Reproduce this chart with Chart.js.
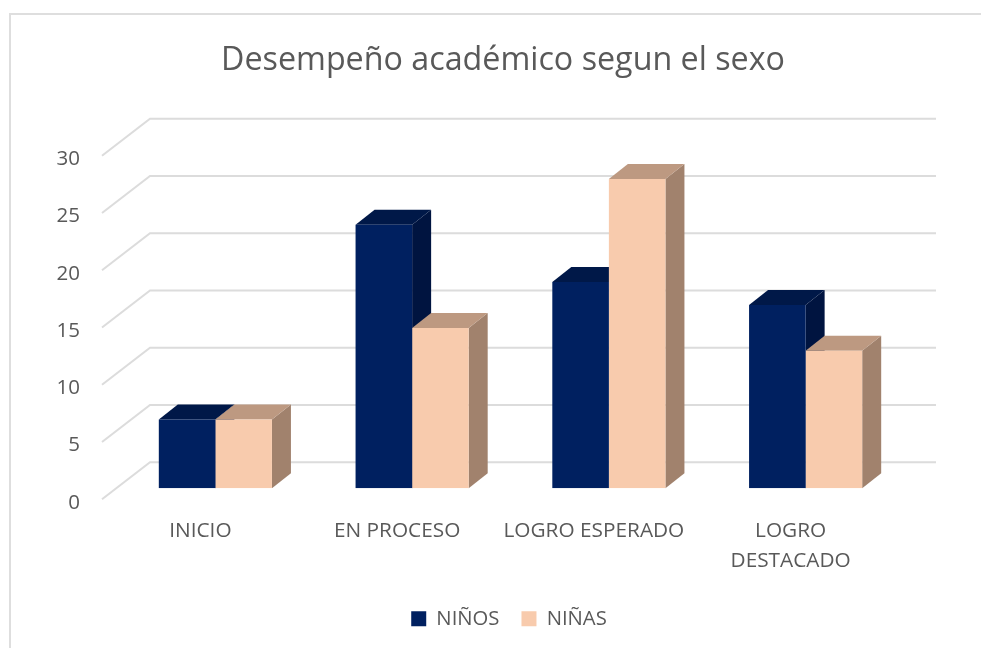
<!DOCTYPE html>
<html>
<head>
<meta charset="utf-8">
<script src="https://cdn.jsdelivr.net/npm/chart.js@4"></script>
<style>
html,body{margin:0;padding:0;background:#fff;overflow:hidden}
canvas{display:block}
</style>
</head>
<body>
<canvas id="c" width="982" height="648"></canvas>
<script>
const categories = ["INICIO", "EN PROCESO", "LOGRO ESPERADO", ["LOGRO", "DESTACADO"]];
const ninos = [6, 23, 18, 16];
const ninas = [6, 14, 27, 12];
const seriesNames = ["NIÑOS", "NIÑAS"];

const FONT = '"Open Sans", sans-serif';
const TEXT = '#595959';
const GRID = '#dcdcdc';
const FACES = [
  {front:'#002060', top:'#001848', side:'#001440'},
  {front:'#F8CBAD', top:'#BD9981', side:'#A1826D'}
];
const DEPTH_X = 19, DEPTH_Y = 15;

const wall3d = {
  id:'wall3d',
  afterLayout(chart){
    chart.legend.left += 12;
  },
  beforeDraw(chart){
    const c = chart.ctx;
    c.save();
    c.fillStyle = '#fff';
    c.fillRect(0,0,chart.width,chart.height);
    c.strokeStyle = '#dedede';
    c.lineWidth = 2;
    c.beginPath();
    c.moveTo(10,648); c.lineTo(10,14); c.lineTo(981,14);
    c.stroke();
    c.restore();
  },
  beforeDatasetsDraw(chart){
    const c = chart.ctx, y = chart.scales.y, a = chart.chartArea;
    c.save();
    c.strokeStyle = GRID;
    c.lineWidth = 2;
    y.ticks.forEach(t=>{
      const p = y.getPixelForValue(t.value);
      c.beginPath();
      c.moveTo(a.left-15, p+11);
      c.lineTo(a.left+33, p-26);
      c.lineTo(a.right+32, p-26);
      c.stroke();
    });
    chart.data.datasets.forEach((ds,i)=>{
      chart.getDatasetMeta(i).data.forEach(b=>{
        const l = b.x-b.width/2, r = b.x+b.width/2;
        c.fillStyle = FACES[i].side;
        c.beginPath();
        c.moveTo(r,b.y); c.lineTo(r+DEPTH_X,b.y-DEPTH_Y);
        c.lineTo(r+DEPTH_X,b.base-DEPTH_Y); c.lineTo(r,b.base);
        c.closePath(); c.fill();
        c.fillStyle = FACES[i].top;
        c.beginPath();
        c.moveTo(l,b.y); c.lineTo(l+DEPTH_X,b.y-DEPTH_Y);
        c.lineTo(r+DEPTH_X,b.y-DEPTH_Y); c.lineTo(r,b.y);
        c.closePath(); c.fill();
      });
    });
    c.restore();
  }
};

new Chart(document.getElementById('c'), {
  type:'bar',
  data:{
    labels:categories,
    datasets:[
      {label:seriesNames[0], data:ninos, backgroundColor:FACES[0].front},
      {label:seriesNames[1], data:ninas, backgroundColor:FACES[1].front}
    ]
  },
  plugins:[wall3d],
  options:{
    responsive:false,
    animation:false,
    devicePixelRatio:1,
    layout:{padding:{left:24,right:0,top:0,bottom:9}},
    datasets:{bar:{barPercentage:1,categoryPercentage:0.575}},
    plugins:{
      tooltip:{enabled:false},
      title:{
        display:true,
        text:'Desempeño académico segun el sexo',
        color:TEXT,
        font:{family:FONT,size:32.25,weight:'normal',lineHeight:1.2},
        padding:{top:41,bottom:65}
      },
      legend:{
        position:'bottom',
        labels:{
          color:TEXT,
          font:{family:FONT,size:20.3},
          boxWidth:15,boxHeight:15,padding:22
        }
      }
    },
    scales:{
      x:{
        grid:{display:false},
        border:{display:false},
        afterFit(s){s.height=98.5;},
        ticks:{
          color:TEXT,
          font:{family:FONT,size:20.8,lineHeight:1.44},
          padding:20,
          labelOffset:-15,
          maxRotation:0,minRotation:0,autoSkip:false
        }
      },
      y:{
        min:0,max:30,
        grid:{display:false,drawTicks:false},
        border:{display:false},
        afterFit(s){s.width=93;},
        ticks:{
          stepSize:5,
          color:TEXT,
          font:{family:FONT,size:20.5},
          padding:37,
          labelOffset:14.5
        }
      },
      yr:{
        position:'right',
        min:0,max:30,
        grid:{display:false},
        border:{display:false},
        ticks:{display:false},
        afterFit(s){s.width=78;}
      }
    }
  }
});
</script>
</body>
</html>
